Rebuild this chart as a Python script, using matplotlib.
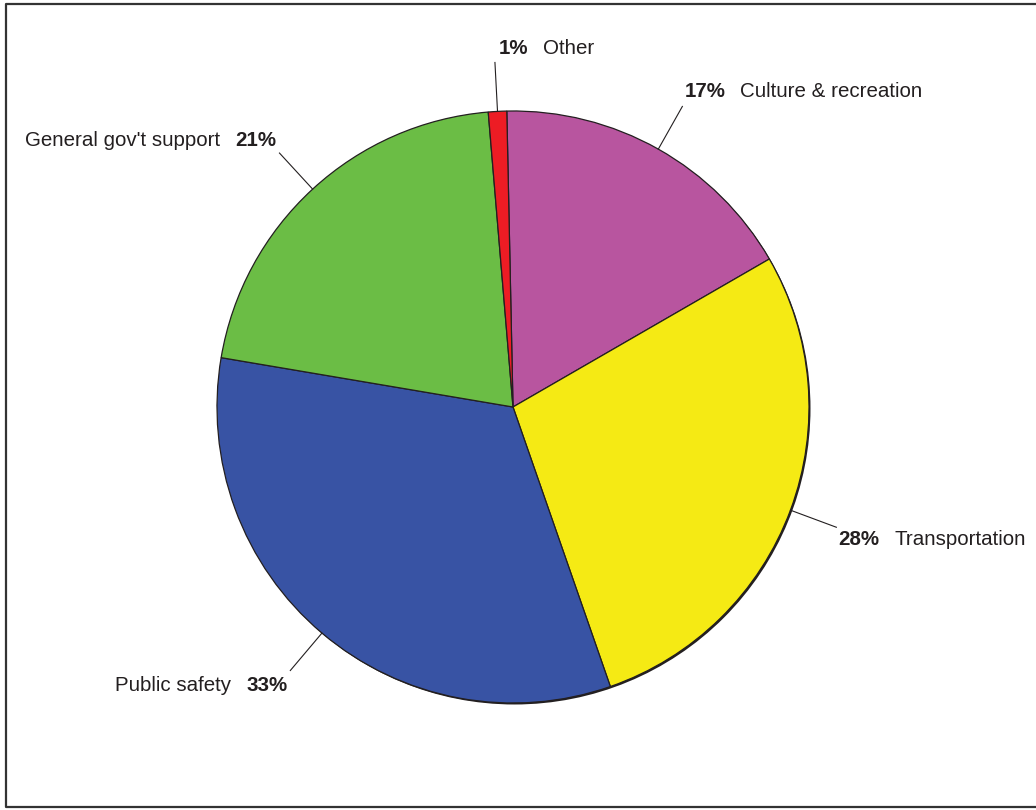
import matplotlib
matplotlib.use('Agg')
import matplotlib.pyplot as plt
import numpy as np
from matplotlib.patches import Circle
from matplotlib.lines import Line2D

categories = ["Culture & recreation", "Transportation", "Public safety",
              "General gov't support", "Other"]
shares = [17, 28, 33, 21, 1]
colors = ["#B8559F", "#F5EA14", "#3853A4", "#6BBD45", "#ED1C24"]
# label side: 'R' -> "pct  name", 'L' -> "name  pct"
sides = ["R", "R", "L", "L", "R"]
# vertical offset of label from leader end (pixels, layout only)
label_dy = [15, -12, -15, 13, 14]

plt.rcParams['font.family'] = ['Liberation Sans', 'DejaVu Sans']

W, H = 1036, 810
fig = plt.figure(figsize=(W / 100, H / 100), dpi=100)
ax = fig.add_axes([0, 0, 1, 1])

cx, cy, R = 513, H - 407, 296
edge = '#231F20'

# subtle drop shadow giving the thicker lower-right rim
ax.add_patch(Circle((cx + 1.5, cy - 1.5), R, facecolor=edge, edgecolor='none', zorder=0))

wedges, _ = ax.pie(shares, colors=colors, startangle=91.2, counterclock=False,
                   center=(cx, cy), radius=R, frame=False,
                   wedgeprops=dict(edgecolor=edge, linewidth=0.9))

ax.set_xlim(0, W)
ax.set_ylim(0, H)
ax.set_aspect('equal')
ax.axis('off')

fs = 14.8
gap = 15
R2 = R * 345 / 296
texts = []
for w, cat, val, side, dy in zip(wedges, categories, shares, sides, label_dy):
    mid = np.deg2rad((w.theta1 + w.theta2) / 2)
    x0, y0 = cx + R * np.cos(mid), cy + R * np.sin(mid)
    x1, y1 = cx + R2 * np.cos(mid), cy + R2 * np.sin(mid)
    ax.add_line(Line2D([x0, x1], [y0, y1], color=edge, lw=0.8, zorder=3))
    ty = y1 + dy
    if side == 'R':
        tx = x1 + (4 if cat == "Other" else 2)
        t1 = ax.text(tx, ty, f"{val}%", fontsize=fs, fontweight='bold',
                     ha='left', va='center', color=edge)
        texts.append((t1, cat, 'R', ty))
    else:
        tx = x1 - 3
        t1 = ax.text(tx, ty, f"{val}%", fontsize=fs, fontweight='bold',
                     ha='right', va='center', color=edge)
        texts.append((t1, cat, 'L', ty))

fig.canvas.draw()
r = fig.canvas.get_renderer()
inv = ax.transData.inverted()
for t1, cat, side, ty in texts:
    bb = t1.get_window_extent(r)
    (xa, _), (xb, _) = inv.transform([[bb.x0, bb.y0], [bb.x1, bb.y1]])
    if side == 'R':
        ax.text(xb + gap, ty, cat, fontsize=fs, ha='left', va='center', color=edge)
    else:
        ax.text(xa - gap, ty, cat, fontsize=fs, ha='right', va='center', color=edge)

# outer frame (open on the right, as in the source)
ax.add_line(Line2D([W + 5, 5.5, 5.5, W + 5], [H - 3.5, H - 3.5, H - 807, H - 807],
                   color='#333333', lw=1.6, clip_on=False, zorder=5))

fig.savefig('out.png', dpi=100)
